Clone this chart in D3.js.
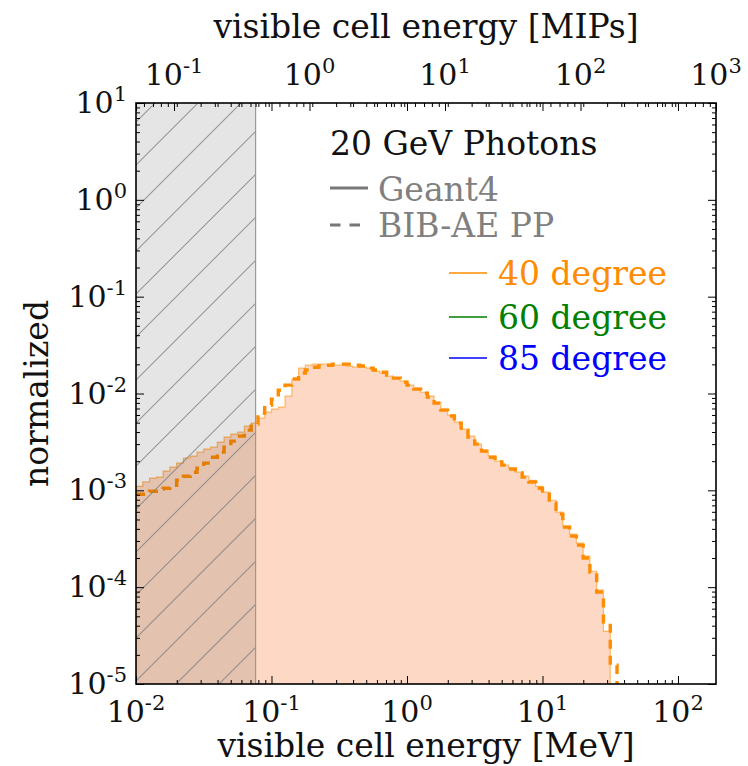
<!DOCTYPE html>
<html>
<head>
<meta charset="utf-8">
<script src="https://cdn.jsdelivr.net/npm/d3@7"></script>
<style>
  body { margin: 0; background: #fff; }
  svg { display: block; }
  text { font-family: "DejaVu Serif", serif; }
</style>
</head>
<body>
<svg id="chart" width="748" height="766"></svg>
<script>
// Histogram binning: log-spaced bins, 20 per decade, first edge at 10^-2 MeV
const binStartExp = -2;
const binsPerDecade = 20;

// 20 GeV photons, 40 degree incidence: normalized cell-energy spectra per bin
const geant4_40 = [
  1.10e-3, 1.22e-3, 1.34e-3, 1.37e-3, 1.58e-3, 1.74e-3, 1.91e-3, 2.15e-3, 2.26e-3, 2.48e-3,
  2.67e-3, 2.79e-3, 3.15e-3, 3.55e-3, 3.81e-3, 3.99e-3, 4.60e-3, 4.94e-3, 5.57e-3, 6.43e-3,
  6.90e-3, 7.24e-3, 9.40e-3, 1.41e-2, 1.83e-2, 1.96e-2, 2.01e-2, 2.01e-2, 2.01e-2, 1.96e-2,
  1.96e-2, 1.92e-2, 1.87e-2, 1.87e-2, 1.83e-2, 1.70e-2, 1.63e-2, 1.51e-2, 1.44e-2, 1.34e-2,
  1.22e-2, 1.14e-2, 1.03e-2, 9.40e-3, 8.15e-3, 6.90e-3, 5.98e-3, 5.07e-3, 4.29e-3, 3.63e-3,
  3.00e-3, 2.60e-3, 2.26e-3, 2.00e-3, 1.82e-3, 1.69e-3, 1.54e-3, 1.40e-3, 1.27e-3, 1.10e-3,
  9.6e-4, 7.9e-4, 5.96e-4, 4.27e-4, 3.53e-4, 2.85e-4, 2.09e-4, 1.46e-4, 9.3e-5, 3.5e-5,
  0
];
const bibae_40 = [
  9.1e-4, 9.1e-4, 9.8e-4, 1.03e-3, 1.05e-3, 1.13e-3, 1.27e-3, 1.40e-3, 1.54e-3, 1.69e-3,
  1.91e-3, 2.20e-3, 2.48e-3, 2.79e-3, 3.22e-3, 3.63e-3, 4.19e-3, 4.83e-3, 6.28e-3, 7.59e-3,
  8.75e-3, 1.08e-2, 1.22e-2, 1.41e-2, 1.63e-2, 1.75e-2, 1.87e-2, 1.92e-2, 1.96e-2, 2.01e-2,
  2.01e-2, 2.01e-2, 1.96e-2, 1.92e-2, 1.83e-2, 1.75e-2, 1.66e-2, 1.55e-2, 1.44e-2, 1.31e-2,
  1.22e-2, 1.11e-2, 1.01e-2, 9.18e-3, 7.96e-3, 6.74e-3, 5.85e-3, 4.94e-3, 4.19e-3, 3.55e-3,
  3.00e-3, 2.54e-3, 2.20e-3, 1.96e-3, 1.82e-3, 1.66e-3, 1.51e-3, 1.37e-3, 1.22e-3, 1.05e-3,
  9.1e-4, 7.38e-4, 5.68e-4, 4.17e-4, 3.37e-4, 2.72e-4, 2.00e-4, 1.43e-4, 8.9e-5, 4.35e-5,
  1.56e-5
];

// Legend entries
const angleLabels = ["40 degree", "60 degree", "85 degree"];
const angleColors = ["#ff8c00", "#008000", "#0000ff"];
const simLabels = ["Geant4", "BIB-AE PP"];
const titleText = "20 GeV Photons";

// Axis ticks (powers of ten)
const xTickExps = [-2, -1, 0, 1, 2];
const mipTickExps = [-1, 0, 1, 2, 3];
const yTickExps = [1, 0, -1, -2, -3, -4, -5];

// Energy of one MIP in MeV and the MIP threshold shaded on the left
const mipMeV = 0.1908;
const thresholdMip = 0.4;

const M = { left: 136, right: 716, top: 103, bottom: 684 };
const svg = d3.select("#chart");

const x = d3.scaleLog().domain([1e-2, 1000 * mipMeV]).range([M.left, M.right]);
const xMip = d3.scaleLog().domain([1e-2 / mipMeV, 1000]).range([M.left, M.right]);
const y = d3.scaleLog().domain([1e-5, 10]).range([M.bottom, M.top]);

const defs = svg.append("defs");
defs.append("clipPath").attr("id", "plotClip")
  .append("rect")
  .attr("x", M.left).attr("y", M.top)
  .attr("width", M.right - M.left).attr("height", M.bottom - M.top);

const hatch = defs.append("pattern")
  .attr("id", "hatch")
  .attr("patternUnits", "userSpaceOnUse")
  .attr("x", 0).attr("y", 0)
  .attr("width", 43).attr("height", 43);
hatch.append("path")
  .attr("d", "M0,43 L43,0 M-6,6 L6,-6 M37,49 L49,37")
  .attr("stroke", "#7a7a7a").attr("stroke-opacity", 0.75)
  .attr("stroke-width", 1.1).attr("fill", "none");

// Bin edges and step outlines
const edges = d3.range(geant4_40.length + 1).map(i => Math.pow(10, binStartExp + i / binsPerDecade));
const floorVal = 1e-7;
function stepPoints(vals) {
  const pts = [[edges[0], floorVal]];
  vals.forEach((v, i) => {
    const vv = v > 0 ? v : floorVal;
    pts.push([edges[i], vv]);
    pts.push([edges[i + 1], vv]);
  });
  pts.push([edges[vals.length], floorVal]);
  return pts;
}

const plot = svg.append("g").attr("clip-path", "url(#plotClip)");

const g4pts = stepPoints(geant4_40);
plot.append("path")
  .attr("d", d3.area().x(d => x(d[0])).y0(M.bottom).y1(d => y(d[1]))(g4pts))
  .attr("fill", "#fdd8c5");
plot.append("path")
  .attr("d", d3.line().x(d => x(d[0])).y(d => y(d[1]))(g4pts))
  .attr("fill", "none").attr("stroke", "#ff8c00").attr("stroke-opacity", 0.55)
  .attr("stroke-width", 1.2);

const bibPts = stepPoints(bibae_40);
plot.append("path")
  .attr("d", d3.line().x(d => x(d[0])).y(d => y(d[1]))(bibPts.slice(1)))
  .attr("fill", "none").attr("stroke", "#ff8c00")
  .attr("stroke-width", 3.4).attr("stroke-dasharray", "9,7");

// Shaded region below the MIP threshold
const xCut = x(thresholdMip * mipMeV);
plot.append("rect")
  .attr("x", M.left).attr("y", M.top)
  .attr("width", xCut - M.left).attr("height", M.bottom - M.top)
  .attr("fill", "#000").attr("fill-opacity", 0.1);
plot.append("rect")
  .attr("x", M.left).attr("y", M.top)
  .attr("width", xCut - M.left).attr("height", M.bottom - M.top)
  .attr("fill", "url(#hatch)");
plot.append("line")
  .attr("x1", xCut).attr("x2", xCut).attr("y1", M.top).attr("y2", M.bottom)
  .attr("stroke", "#999").attr("stroke-width", 1.2);

// Tick values
function majors(scale) {
  const [a, b] = scale.domain();
  const out = [];
  for (let e = Math.floor(Math.log10(a)); e <= Math.ceil(Math.log10(b)); e++) {
    const v = Math.pow(10, e);
    if (v >= a * 0.999 && v <= b * 1.001) out.push(v);
  }
  return out;
}
function minors(scale) {
  const [a, b] = scale.domain();
  const out = [];
  for (let e = Math.floor(Math.log10(a)) - 1; e <= Math.ceil(Math.log10(b)); e++) {
    for (let d = 2; d <= 9; d++) {
      const v = d * Math.pow(10, e);
      if (v > a && v < b) out.push(v);
    }
  }
  return out;
}

function tickAxis(axisFn, scale, vals, size, transform) {
  const ax = axisFn(scale).tickValues(vals).tickSize(size).tickFormat("");
  const g = svg.append("g").attr("transform", transform).call(ax);
  g.select(".domain").remove();
  g.selectAll(".tick line").attr("stroke", "#000").attr("stroke-width", 1);
}

// inward ticks on all four sides
tickAxis(d3.axisBottom, x, majors(x), -8, `translate(0,${M.bottom})`);
tickAxis(d3.axisBottom, x, minors(x), -4, `translate(0,${M.bottom})`);
tickAxis(d3.axisTop, x, majors(x), -8, `translate(0,${M.top})`);
tickAxis(d3.axisTop, x, minors(x), -4, `translate(0,${M.top})`);
tickAxis(d3.axisTop, xMip, majors(xMip), -8, `translate(0,${M.top})`);
tickAxis(d3.axisTop, xMip, minors(xMip), -4, `translate(0,${M.top})`);
tickAxis(d3.axisLeft, y, majors(y), -8, `translate(${M.left},0)`);
tickAxis(d3.axisLeft, y, minors(y), -4, `translate(${M.left},0)`);
tickAxis(d3.axisRight, y, majors(y), -8, `translate(${M.right},0)`);
tickAxis(d3.axisRight, y, minors(y), -4, `translate(${M.right},0)`);

// Frame
svg.append("rect")
  .attr("x", M.left).attr("y", M.top)
  .attr("width", M.right - M.left).attr("height", M.bottom - M.top)
  .attr("fill", "none").attr("stroke", "#000").attr("stroke-width", 1.6);

// Power-of-ten tick labels
function powLabel(sel, exp) {
  sel.append("tspan").text("10");
  sel.append("tspan").attr("font-size", 21).attr("dy", -12)
    .text(exp < 0 ? "-" + Math.abs(exp) : String(exp));
}
xTickExps.forEach(e => {
  svg.append("text").attr("x", x(Math.pow(10, e))).attr("y", 722)
    .attr("text-anchor", "middle").attr("font-size", 30).attr("fill", "#111")
    .call(powLabel, e);
});
mipTickExps.forEach(e => {
  svg.append("text").attr("x", xMip(Math.pow(10, e))).attr("y", 85)
    .attr("text-anchor", "middle").attr("font-size", 30).attr("fill", "#111")
    .call(powLabel, e);
});
yTickExps.forEach(e => {
  svg.append("text").attr("x", 127).attr("y", y(Math.pow(10, e)) + 10)
    .attr("text-anchor", "end").attr("font-size", 30).attr("fill", "#111")
    .call(powLabel, e);
});

// Axis titles
svg.append("text").attr("x", (M.left + M.right) / 2).attr("y", 757)
  .attr("text-anchor", "middle").attr("font-size", 33).attr("fill", "#111")
  .text("visible cell energy [MeV]");
svg.append("text").attr("x", (M.left + M.right) / 2).attr("y", 38)
  .attr("text-anchor", "middle").attr("font-size", 33).attr("fill", "#111")
  .text("visible cell energy [MIPs]");
svg.append("text")
  .attr("transform", `translate(48,${(M.top + M.bottom) / 2}) rotate(-90)`)
  .attr("text-anchor", "middle").attr("font-size", 33).attr("fill", "#111")
  .text("normalized");

// Legend: simulation types
svg.append("text").attr("x", 330).attr("y", 155).attr("font-size", 33).attr("fill", "#111")
  .text(titleText);
const simLeg = svg.append("g");
simLeg.append("line").attr("x1", 330).attr("x2", 368).attr("y1", 188).attr("y2", 188)
  .attr("stroke", "#777").attr("stroke-width", 3);
simLeg.append("line").attr("x1", 330).attr("x2", 368).attr("y1", 225).attr("y2", 225)
  .attr("stroke", "#777").attr("stroke-width", 3).attr("stroke-dasharray", "10.5,9");
simLabels.forEach((t, i) => {
  simLeg.append("text").attr("x", 378).attr("y", 201 + i * 35.5).attr("font-size", 33)
    .attr("fill", "#808080").text(t);
});

// Legend: incidence angles
angleLabels.forEach((t, i) => {
  const yy = [273, 317, 358][i];
  svg.append("line").attr("x1", 449).attr("x2", 487).attr("y1", yy).attr("y2", yy)
    .attr("stroke", angleColors[i]).attr("stroke-width", 1.5);
  svg.append("text").attr("x", 498).attr("y", yy + 12).attr("font-size", 33)
    .attr("fill", angleColors[i]).text(t);
});
</script>
</body>
</html>
